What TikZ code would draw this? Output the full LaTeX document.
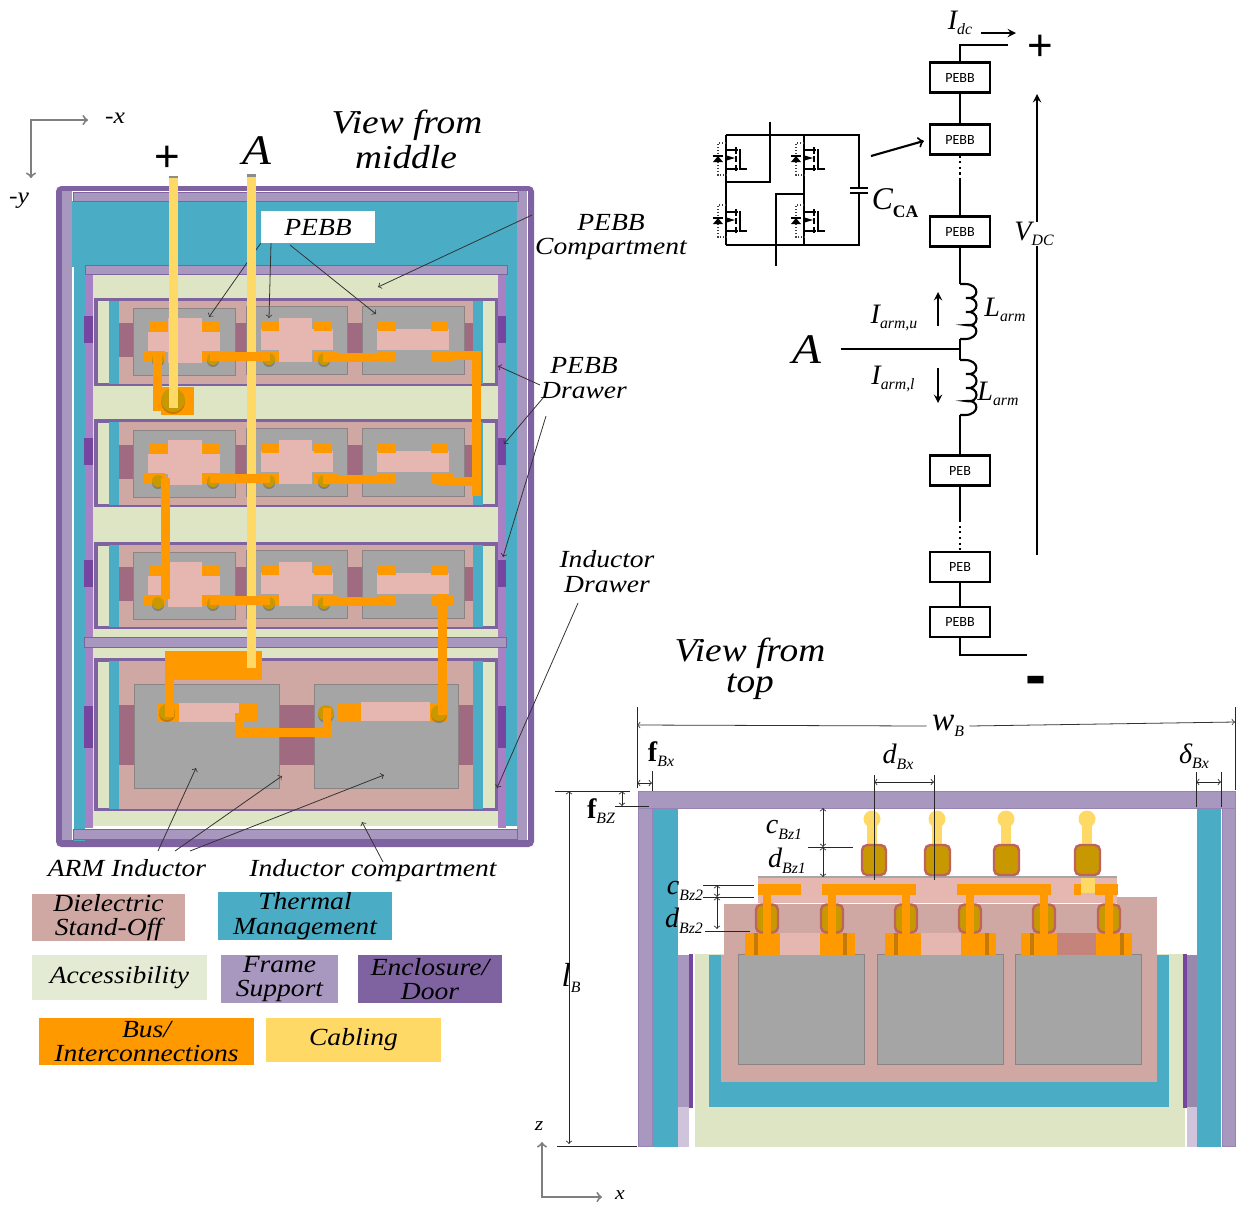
\documentclass[tikz,border=0pt]{standalone}
\usepackage{fontspec}
\setmainfont{Liberation Serif}
\newfontfamily\stretchfont[FakeStretch=1.12]{Liberation Serif}
\newfontfamily\boxfont{Carlito}
\newfontfamily\signfont{Liberation Sans}
\usepackage{tikz}
\definecolor{enclosure}{HTML}{7F63A1}
\definecolor{frameA}{HTML}{A897BF}
\definecolor{frameB}{HTML}{A880C4}
\definecolor{frameC}{HTML}{CFC4DC}
\definecolor{thermal}{HTML}{4BACC6}
\definecolor{access}{HTML}{DDE5C4}
\definecolor{accessB}{HTML}{E4EBD5}
\definecolor{dielectric}{HTML}{CFA8A4}
\definecolor{bus}{HTML}{FF9900}
\definecolor{busdark}{HTML}{C47A08}
\definecolor{cabling}{HTML}{FFD966}
\definecolor{module}{HTML}{A5A5A5}
\definecolor{moduleline}{HTML}{8C8484}
\definecolor{pale}{HTML}{E6B6B1}
\definecolor{paleB}{HTML}{C4847C}
\definecolor{mauve}{HTML}{A06A80}
\definecolor{tab}{HTML}{7545A0}
\definecolor{gold}{HTML}{C89800}
\definecolor{goldline}{HTML}{C0635A}
\definecolor{axisgray}{HTML}{7F7F7F}
\tikzset{
    big/.style={font=\stretchfont\itshape\fontsize{19}{18}\selectfont, inner sep=0pt},
    mid/.style={font=\stretchfont\itshape\fontsize{14}{14}\selectfont, inner sep=0pt, align=center},
    sym/.style={font=\itshape\fontsize{16}{16}\selectfont, inner sep=0pt},
    sign/.style={font=\signfont\fontsize{25}{25}\selectfont, inner sep=0pt},
    pebbbox/.style={draw, line width=1.2pt, fill=white, minimum width=60*0.02cm, minimum height=30*0.02cm, inner sep=0pt, font=\boxfont\fontsize{8}{8}\selectfont},
    legendbox/.style={minimum width=#1*0.02cm, inner sep=0pt},
    legendtext/.style={mid, text=black},
    wire/.style={line width=1.2pt},
    leader/.style={->, >=to, line width=0.45pt, black!80},
    dimline/.style={<->, >=to, line width=0.45pt, black!85},
    extline/.style={line width=0.5pt, black!85},
    axisline/.style={<-, >=to, line width=1.1pt, axisgray},
    lilarrow/.style={->, >=stealth, line width=1.1pt}
}
\def\Block #1 at (#2) to (#3);{\fill[#1] (#2) rectangle (#3);}
\def\Lab#1#2{#1\raisebox{-0.2em}{\fontsize{9}{9}\selectfont #2}}
\def\Gold at (#1, #2) size (#3, #4);{
    \filldraw[fill=gold, draw=goldline, line width=1.4pt, rounded corners=3pt] (#1 - #3, #2 - #4) rectangle (#1 + #3, #2 + #4);
}
\def\Dot at (#1, #2) radius #3;{
    \fill[black, opacity=0.22] (#1, #2 + 2) circle (#3);
    \fill[gold] (#1, #2) circle (#3);
}
\def\Drawer top #1 bottom #2;{
    \filldraw[fill=access, draw=enclosure, line width=1.8pt] (96, #1) rectangle (496.5, #2);
    \Block thermal at (109, #1 + 1) to (119, #2 - 1);
    \Block dielectric at (119, #1 + 1) to (473, #2 - 1);
    \Block thermal at (473, #1 + 1) to (483, #2 - 1);
}
\def\Mosfet at (#1, #2);{
    \begin{scope}[shift={(#1, #2)}]
        \draw[line width=0.6pt] (0, -8) -- (12, -8) (0, 11) -- (12, 11);
        \draw[line width=1.1pt] (10, -11) -- (10, -4) (10, -2) -- (10, 4) (10, 7) -- (10, 13);
        \draw[line width=1.1pt] (14, -9) -- (14, 11) -- (21, 11);
        \fill (-1, -3) -- (9, 0) -- (-1, 3) -- cycle;
        \draw[densely dotted, line width=0.7pt, black!75] (0, -15) -- (-8, -15) -- (-8, 17) -- (0, 17);
        \fill (-13, 4) -- (-3, 4) -- (-8, -2) -- cycle;
        \draw[line width=0.8pt] (-13, -2) -- (-3, -2);
    \end{scope}
}
\def\Coil at (#1, #2);{
    \draw[wire] (#1, #2) -- (#1 + 5, #2)
        .. controls (#1 + 20, #2) and (#1 + 20, #2 + 16) .. (#1 + 6, #2 + 14)
        .. controls (#1 + 20, #2 + 12) and (#1 + 20, #2 + 30) .. (#1 + 6, #2 + 28)
        .. controls (#1 + 20, #2 + 26) and (#1 + 20, #2 + 44) .. (#1 + 6, #2 + 41)
        .. controls (#1 + 20, #2 + 39) and (#1 + 20, #2 + 55) .. (#1 + 5, #2 + 55) -- (#1, #2 + 55);
}
\begin{document}
\begin{tikzpicture}[x=0.02cm, y=-0.02cm]
    \useasboundingbox (0, 0) rectangle (1241, 1205);
    % view from middle
    \fill[enclosure, rounded corners=3pt] (56, 186) rectangle (534, 847);
    \Block white at (62, 191) to (528, 840);
    \Block frameA at (62, 191) to (72, 840);
    \Block frameA at (517, 191) to (527, 840);
    \Block thermal at (72, 201) to (517, 267);
    \Block thermal at (74, 267) to (85, 841);
    \Block thermal at (506, 267) to (517, 826);
    \Block frameB at (85, 274) to (93, 828);
    \Block frameB at (498, 274) to (506, 828);
    \Block access at (93, 274) to (498, 826);
    \filldraw[fill=frameA, draw=enclosure, line width=0.5pt] (73, 192) rectangle (518, 201);
    \filldraw[fill=frameA, draw=enclosure, line width=0.5pt] (85, 265) rectangle (507, 274);
    \filldraw[fill=frameA, draw=enclosure, line width=0.5pt] (73, 829) rectangle (517, 839);
    % side tabs
    \foreach \tabtop/\tabbot in {316/343, 438/465, 560/587, 706/748} {
        \Block tab at (84, \tabtop) to (93, \tabbot);
        \Block tab at (498, \tabtop) to (506, \tabbot);
    }
    \Drawer top 299.5 bottom 384.5;
    \Drawer top 421 bottom 505.5;
    \Drawer top 544 bottom 627.5;
    \Drawer top 660 bottom 809.5;
    % PEBB modules
    \foreach \dy in {0, 122, 244} {
        \begin{scope}[shift={(0, \dy)}]
            \Block mauve at (119, 323) to (133, 357);
            \Block mauve at (235, 323) to (246, 357);
            \Block mauve at (347, 323) to (362, 357);
            \Block mauve at (464, 323) to (473, 357);
            \filldraw[fill=module, draw=moduleline, line width=0.5pt] (133, 308) rectangle (235, 375);
            \filldraw[fill=module, draw=moduleline, line width=0.5pt] (246, 306) rectangle (347, 374);
            \filldraw[fill=module, draw=moduleline, line width=0.5pt] (362, 306) rectangle (464, 374);
            \Block pale at (148, 332) to (220, 352);
            \Block pale at (168, 318) to (202, 363);
            \Block pale at (261, 329) to (333, 350);
            \Block pale at (279, 318) to (312, 362);
            \Block pale at (377, 329) to (449, 350);
            \foreach \padl/\padr in {149/167, 202/219, 262/279, 314/332, 378/396, 431/448} {
                \Block bus at (\padl, 321) to (\padr, 331);
            }
            \foreach \padl/\padr in {144/165, 202/225, 257/279, 314/337, 378/396, 431/453} {
                \Block bus at (\padl, 351) to (\padr, 362);
            }
            \Dot at (158, 359) radius 6;
            \Dot at (213, 359) radius 6;
            \Dot at (269, 359) radius 6;
            \Dot at (324, 359) radius 6;
        \end{scope}
    }
    % inductor modules
    \Block mauve at (119, 705) to (134, 765);
    \Block mauve at (279, 705) to (314, 765);
    \Block mauve at (458, 705) to (473, 765);
    \Block access at (93, 629.5) to (498, 658);
    \filldraw[fill=frameA, draw=enclosure, line width=0.5pt] (84, 637) rectangle (506, 647);
    \filldraw[fill=module, draw=moduleline, line width=0.5pt] (134, 684) rectangle (279, 788);
    \filldraw[fill=module, draw=moduleline, line width=0.5pt] (314, 684) rectangle (458, 788);
    \Block pale at (179, 703) to (239, 722);
    \Block pale at (361, 702) to (430, 721);
    \Block bus at (157, 703) to (179, 722);
    \Block bus at (239, 704) to (257, 721);
    \Block bus at (337, 703) to (361, 721);
    \Block bus at (430, 703) to (447, 721);
    \Block bus at (165, 651) to (262, 680);
    \Dot at (167, 712) radius 8;
    \Dot at (326, 713) radius 8;
    \Dot at (439, 713) radius 8;
    \Block bus at (165, 680) to (174, 717);
    % leaders sit under the cables
    \node[fill=white, minimum width=114*0.02cm, minimum height=32*0.02cm, inner sep=0pt, mid] (pebbtag) at (318, 227) {PEBB};
    \coordinate (pebbtailb) at (271, 243);
    \coordinate (pebbtailc) at (290, 245);
    \coordinate (pebbtipa) at (209, 317);
    \coordinate (pebbtipb) at (269, 318);
    \coordinate (pebbtipc) at (376, 314);
    \draw[leader] (pebbtag.south west) -- (pebbtipa);
    \draw[leader] (pebbtailb) -- (pebbtipb);
    \draw[leader] (pebbtailc) -- (pebbtipc);
    % cables
    \Block black!45 at (169, 176) to (178, 180);
    \Block black!45 at (247, 174) to (256, 178);
    \Block cabling at (247, 177) to (256, 668);
    % bus links
    \Block bus at (153, 353) to (162, 411);
    \Block bus at (161, 387) to (194, 415);
    \Dot at (173, 400) radius 12;
    \Block cabling at (169, 178) to (178, 408);
    \Block bus at (443, 351) to (481, 360);
    \Block bus at (472, 351) to (481, 496);
    \Block bus at (438, 477) to (477, 486);
    \Block bus at (161, 478) to (170, 599);
    \Block bus at (438, 594) to (447, 715);
    \foreach \dy in {0, 122, 244} {
        \Block bus at (210, 352 + \dy) to (270, 361 + \dy);
        \Block bus at (323, 353 + \dy) to (382, 362 + \dy);
    }
    \Block bus at (235, 713) to (244, 737);
    \Block bus at (235, 728) to (331, 737);
    \Block bus at (323, 708) to (331, 737);
    % labels of the left view
    \node[big] (viewa) at (407, 125) {View from};
    \node[big] (viewb) at (406, 157) {middle};
    \node[sign] (plusa) at (167, 159) {+};
    \node[big, font=\stretchfont\itshape\fontsize{24}{24}\selectfont] (phasea) at (257, 151) {A};
    \node[mid, font=\stretchfont\itshape\fontsize{13}{13}\selectfont] (minusx) at (115, 118) {-x};
    \node[mid, font=\stretchfont\itshape\fontsize{13}{13}\selectfont] (minusy) at (19, 201) {-y};
    \coordinate (axiscorner) at (31, 120);
    \coordinate (axisxtip) at (88, 120);
    \coordinate (axisytip) at (31, 178);
    \draw[axisline, <->] (axisytip) -- (axiscorner) -- (axisxtip);
    \node[mid] (compartment) at (611, 237) {PEBB\\Compartment};
    \node[mid] (peddrawer) at (584, 378) {PEBB\\Drawer};
    \node[mid] (inddrawer) at (607, 571.5) {Inductor\\Drawer};
    \node[mid] (arm) at (127, 868) {ARM Inductor};
    \node[mid] (indcomp) at (373, 871) {Inductor compartment};
    \coordinate (comptail) at (532, 215);
    \coordinate (comptip) at (378, 287);
    \draw[leader] (comptail) -- (comptip);
    \coordinate (drawtaila) at (540, 385);
    \coordinate (drawtailb) at (543, 398);
    \coordinate (drawtailc) at (546, 416);
    \coordinate (drawtipa) at (498, 366);
    \coordinate (drawtipb) at (504, 444);
    \coordinate (drawtipc) at (503, 557);
    \draw[leader] (drawtaila) -- (drawtipa);
    \draw[leader] (drawtailb) -- (drawtipb);
    \draw[leader] (drawtailc) -- (drawtipc);
    \coordinate (indtail) at (578, 603);
    \coordinate (indtip) at (497, 788);
    \draw[leader] (indtail) -- (indtip);
    \coordinate (armtaila) at (158, 851);
    \coordinate (armtailb) at (175, 851);
    \coordinate (armtailc) at (190, 851);
    \coordinate (armtipa) at (196, 768);
    \coordinate (armtipb) at (282, 776);
    \coordinate (armtipc) at (384, 775);
    \draw[leader] (armtaila) -- (armtipa);
    \draw[leader] (armtailb) -- (armtipb);
    \draw[leader] (armtailc) -- (armtipc);
    \coordinate (comptailb) at (383, 862);
    \coordinate (comptipb) at (362, 822);
    \draw[leader] (comptailb) -- (comptipb);
    % legend
    \node[fill=dielectric, legendbox=153, minimum height=47*0.02cm, label={[legendtext]center:Dielectric\\Stand-Off}] (keydielectric) at (108.5, 917.5) {};
    \node[fill=thermal, legendbox=174, minimum height=48*0.02cm, label={[legendtext]center:Thermal\\Management}] (keythermal) at (305, 916) {};
    \node[fill=accessB, legendbox=175, minimum height=45*0.02cm, label={[legendtext]center:Accessibility}] (keyaccess) at (119.5, 977.5) {};
    \node[fill=frameA, legendbox=117, minimum height=48*0.02cm, label={[legendtext]center:Frame\\Support}] (keyframe) at (279.5, 979) {};
    \node[fill=enclosure, legendbox=144, minimum height=48*0.02cm, label={[legendtext]center:Enclosure/\\Door}] (keyenclosure) at (430, 979) {};
    \node[fill=bus, legendbox=215, minimum height=47*0.02cm, label={[legendtext]center:Bus/\\Interconnections}] (keybus) at (146.5, 1041.5) {};
    \node[fill=cabling, legendbox=175, minimum height=44*0.02cm, label={[legendtext]center:Cabling}] (keycabling) at (353.5, 1040) {};
    % circuit
    \node[pebbbox] (pebba) at (960, 77.5) {PEBB};
    \node[pebbbox] (pebbb) at (960, 139.5) {PEBB};
    \node[pebbbox] (pebbc) at (960, 231.5) {PEBB};
    \node[pebbbox] (pebd) at (960, 470.5) {PEB};
    \node[pebbbox] (pebe) at (960, 567) {PEB};
    \node[pebbbox] (pebbf) at (960, 622) {PEBB};
    \coordinate (dctop) at (1008, 45);
    \coordinate (dcbend) at (960, 45);
    \draw[wire] (pebba.north) -- (dcbend) -- (dctop);
    \draw[wire] (pebba) -- (pebbb);
    \coordinate (dotsa) at (960, 180);
    \draw[wire, dotted] (pebbb) -- (dotsa);
    \draw[wire] (dotsa) -- (pebbc);
    \coordinate (coilutop) at (960, 284);
    \coordinate (coilubot) at (960, 339);
    \coordinate (coilltop) at (960, 360);
    \coordinate (coillbot) at (960, 415);
    \draw[wire] (pebbc) -- (coilutop);
    \Coil at (960, 284);
    \draw[wire] (coilubot) -- (coilltop);
    \Coil at (960, 360);
    \draw[wire] (coillbot) -- (pebd);
    \coordinate (dotsb) at (960, 520);
    \draw[wire] (pebd) -- (dotsb);
    \draw[wire, dotted] (dotsb) -- (pebe);
    \draw[wire] (pebe) -- (pebbf);
    \coordinate (dcbot) at (1027, 655);
    \coordinate (dcbotbend) at (960, 655);
    \draw[wire] (pebbf.south) -- (dcbotbend) -- (dcbot);
    \coordinate (phasewire) at (841, 349);
    \coordinate (phasejoin) at (960, 349);
    \draw[wire] (phasewire) -- (phasejoin);
    \node[big, font=\stretchfont\itshape\fontsize{24}{24}\selectfont] (phaseb) at (807, 350) {A};
    \node[sign] (plusb) at (1040, 48) {+};
    \node[sign, font=\signfont\bfseries\fontsize{36}{36}\selectfont] (minusb) at (1036, 686) {-};
    \node[sym] (idc) at (960, 23) {\Lab{I}{dc}};
    \node[sym] (vdc) at (1034, 234) {\Lab{V}{DC}};
    \node[sym] (iarmu) at (894, 318) {\Lab{I}{arm,u}};
    \node[sym] (iarml) at (893, 379) {\Lab{I}{arm,l}};
    \node[sym] (larmu) at (1005, 310) {\Lab{L}{arm}};
    \node[sym] (larml) at (998, 394) {\Lab{L}{arm}};
    \coordinate (idcfrom) at (981, 33);
    \coordinate (idcto) at (1016, 33);
    \draw[lilarrow] (idcfrom) -- (idcto);
    \coordinate (vdclow) at (1037, 555);
    \coordinate (vdchigh) at (1037, 94);
    \draw[lilarrow] (vdc.north -| vdchigh) -- (vdchigh);
    \draw[wire] (vdc.south -| vdclow) -- (vdclow);
    \coordinate (iufrom) at (938, 326);
    \coordinate (iuto) at (938, 292);
    \coordinate (ilfrom) at (938, 368);
    \coordinate (ilto) at (938, 403);
    \draw[lilarrow] (iufrom) -- (iuto);
    \draw[lilarrow] (ilfrom) -- (ilto);
    % half bridge cell
    \coordinate (railtl) at (726, 135);
    \coordinate (railtr) at (859, 135);
    \coordinate (railbl) at (726, 245);
    \coordinate (railbr) at (859, 245);
    \draw[wire] (railtl) -- (railtr) -- (859, 188) (859, 193) -- (railbr) -- (railbl);
    \draw[line width=1.5pt] (850, 188) -- (868, 188) (850, 193) -- (868, 193);
    \draw[line width=0.7pt] (railtl) -- (railbl) (804, 135) -- (804, 245);
    \draw[wire] (726, 182) -- (770, 182) -- (770, 122);
    \draw[wire] (804, 194) -- (776, 194) -- (776, 266);
    \Mosfet at (726, 158);
    \Mosfet at (804, 158);
    \Mosfet at (726, 220);
    \Mosfet at (804, 220);
    \node[sym, font=\itshape\fontsize{18}{18}\selectfont] (cca) at (895, 203) {C\raisebox{-0.25em}{\normalfont\bfseries\fontsize{10}{10}\selectfont CA}};
    \coordinate (cellarrow) at (871, 156);
    \draw[wire, ->, >=to, shorten >=3pt] (cellarrow) -- (pebbb.west);
    % view from top
    \Block access at (695, 954) to (1185, 1147);
    \Block frameC at (678, 1107) to (689, 1147);
    \Block frameC at (1187, 1107) to (1197, 1147);
    \Block frameA at (678, 955) to (689, 1107);
    \Block frameA!90!black at (1187, 955) to (1197, 1107);
    \Block tab at (689, 954) to (693, 1108);
    \Block tab at (1183, 954) to (1187, 1108);
    \Block thermal at (653, 808) to (678, 1147);
    \Block thermal at (1197, 808) to (1221, 1147);
    \Block thermal at (709, 955) to (1169, 1107);
    \Block dielectric at (721, 955) to (1157, 1082);
    \Block dielectric at (724, 904) to (1157, 956);
    \Block dielectric at (1117, 897) to (1157, 905);
    \foreach \blockl/\blockr in {738/864, 877/1003, 1015/1141} {
        \filldraw[fill=module, draw=moduleline, line width=0.5pt] (\blockl, 954) rectangle (\blockr, 1064);
    }
    \filldraw[fill=frameA, draw=enclosure!80, line width=0.5pt] (638, 791) rectangle (652, 1146);
    \filldraw[fill=frameA, draw=enclosure!80, line width=0.5pt] (1222, 791) rectangle (1235, 1146);
    \filldraw[fill=frameA, draw=enclosure!80, line width=0.5pt] (638, 791) rectangle (1235, 808);
    % top busbars and terminals
    \foreach \stem in {872, 937, 1006} {
        \Block cabling at (\stem - 5, 819) to (\stem + 5, 880);
    }
    \Block cabling at (1082, 819) to (1092, 880);
    \foreach \stem in {872, 937, 1006, 1087} {
        \fill[cabling] (\stem, 819) circle (8.5);
    }
    \Block black!35 at (758, 876) to (1117, 878);
    \Block pale at (758, 878) to (1117, 903);
    \Block cabling at (1081, 878) to (1095, 893);
    \Gold at (874, 860) size (12, 15);
    \Gold at (937.5, 860) size (12.5, 15);
    \Gold at (1006.5, 860) size (12.5, 15);
    \Gold at (1087.5, 860) size (12.5, 15);
    \Block bus at (758, 884) to (801, 895);
    \Block bus at (822, 884) to (916, 895);
    \Block bus at (957, 884) to (1051, 895);
    \Block bus at (1074, 884) to (1081, 895);
    \Block bus at (1095, 884) to (1118, 895);
    % lower bars
    \Block pale at (780, 933) to (820, 955);
    \Block pale at (921, 933) to (961, 955);
    \Block paleB at (1057, 933) to (1096, 955);
    \foreach \barl/\barr in {745/780, 820/855, 885/921, 961/996, 1021/1057, 1096/1132} {
        \Block bus at (\barl, 933) to (\barr, 955);
    }
    \foreach \dark in {754, 843, 894, 985, 1030, 1120} {
        \Block busdark at (\dark, 933) to (\dark + 4, 955);
    }
    \foreach \rod in {767, 832, 906, 970, 1044, 1109} {
        \Gold at (\rod, 918.5) size (11, 14);
        \Block bus at (\rod - 4, 887) to (\rod + 4, 955);
    }
    % dimensions
    \coordinate (wleft) at (637, 707);
    \coordinate (wleftb) at (637, 788);
    \coordinate (wright) at (1235, 707);
    \coordinate (wrightb) at (1235, 790);
    \draw[extline] (wleft) -- (wleftb);
    \draw[extline] (wright) -- (wrightb);
    \node[sym, font=\itshape\fontsize{19}{19}\selectfont] (wlabel) at (948, 726) {\Lab{w}{B}};
    \coordinate (wdima) at (637, 725);
    \coordinate (wdimb) at (1235, 722);
    \draw[leader] (wlabel.west) ++(-5, 0) -- (wdima);
    \draw[leader] (wlabel.east) ++(5, 0) -- (wdimb);
    \coordinate (fxtop) at (652, 771);
    \coordinate (fxbot) at (652, 791);
    \draw[extline] (fxtop) -- (fxbot);
    \coordinate (fxa) at (637, 783);
    \coordinate (fxb) at (652, 783);
    \draw[dimline] (fxa) -- (fxb);
    \node[sym] (fbx) at (661, 754) {\Lab{{\normalfont\bfseries f}}{Bx}};
    \coordinate (dxa) at (874, 775);
    \coordinate (dxb) at (934, 775);
    \coordinate (dxc) at (874, 880);
    \coordinate (dxd) at (934, 880);
    \draw[extline] (dxa) -- (dxc);
    \draw[extline] (dxb) -- (dxd);
    \coordinate (dxe) at (874, 782);
    \coordinate (dxf) at (934, 782);
    \draw[dimline] (dxe) -- (dxf);
    \node[sym] (dbx) at (898, 757) {\Lab{d}{Bx}};
    \coordinate (gxa) at (1196, 772);
    \coordinate (gxb) at (1221, 772);
    \coordinate (gxc) at (1196, 807);
    \coordinate (gxd) at (1221, 807);
    \draw[extline] (gxa) -- (gxc);
    \draw[extline] (gxb) -- (gxd);
    \coordinate (gxe) at (1196, 782);
    \coordinate (gxf) at (1221, 782);
    \draw[dimline] (gxe) -- (gxf);
    \node[sym] (gbx) at (1194, 756) {\Lab{δ}{Bx}};
    \coordinate (fza) at (555, 791);
    \coordinate (fzb) at (630, 791);
    \coordinate (fzc) at (615, 806);
    \coordinate (fzd) at (649, 806);
    \draw[extline] (fza) -- (fzb);
    \draw[extline] (fzc) -- (fzd);
    \coordinate (fze) at (622, 791);
    \coordinate (fzf) at (622, 806);
    \draw[dimline] (fze) -- (fzf);
    \node[sym] (fbz) at (601, 811) {\Lab{{\normalfont\bfseries f}}{BZ}};
    \coordinate (lba) at (569, 791);
    \coordinate (lbb) at (569, 1144);
    \draw[dimline] (lba) -- (lbb);
    \coordinate (lbc) at (557, 1146);
    \coordinate (lbd) at (637, 1146);
    \draw[extline] (lbc) -- (lbd);
    \node[sym, font=\itshape\fontsize{19}{19}\selectfont] (lblabel) at (571, 978) {\Lab{l}{B}};
    \coordinate (cza) at (823, 808);
    \coordinate (czb) at (823, 847);
    \coordinate (czc) at (823, 877);
    \draw[dimline] (cza) -- (czb);
    \draw[dimline] (czb) -- (czc);
    \coordinate (cze) at (808, 847);
    \coordinate (czf) at (853, 847);
    \draw[extline] (cze) -- (czf);
    \node[sym] (cbza) at (784, 830) {\Lab{c}{Bz1}};
    \node[sym] (dbza) at (787, 861) {\Lab{d}{Bz1}};
    \coordinate (cya) at (703, 885);
    \coordinate (cyb) at (754, 885);
    \coordinate (cyc) at (703, 897);
    \coordinate (cyd) at (754, 897);
    \coordinate (cye) at (705, 931);
    \coordinate (cyf) at (750, 931);
    \draw[extline] (cya) -- (cyb);
    \draw[extline] (cyc) -- (cyd);
    \draw[extline] (cye) -- (cyf);
    \coordinate (cyg) at (717, 885);
    \coordinate (cyh) at (717, 897);
    \coordinate (cyi) at (717, 929);
    \draw[dimline] (cyg) -- (cyh);
    \draw[dimline] (cyh) -- (cyi);
    \node[sym] (cbzb) at (685, 891) {\Lab{c}{Bz2}};
    \node[sym] (dbzb) at (684, 921) {\Lab{d}{Bz2}};
    % axes of the top view
    \coordinate (axisb) at (542, 1197);
    \coordinate (axisbz) at (542, 1142);
    \coordinate (axisbx) at (602, 1197);
    \draw[axisline, <->] (axisbz) -- (axisb) -- (axisbx);
    \node[mid, font=\stretchfont\itshape\fontsize{11}{11}\selectfont] (axisz) at (539, 1126) {z};
    \node[mid, font=\stretchfont\itshape\fontsize{11}{11}\selectfont] (axisx) at (620, 1195) {x};
    \node[big] (topa) at (750, 653) {View from};
    \node[big] (topb) at (750, 687) {top};
\end{tikzpicture}
\end{document}
